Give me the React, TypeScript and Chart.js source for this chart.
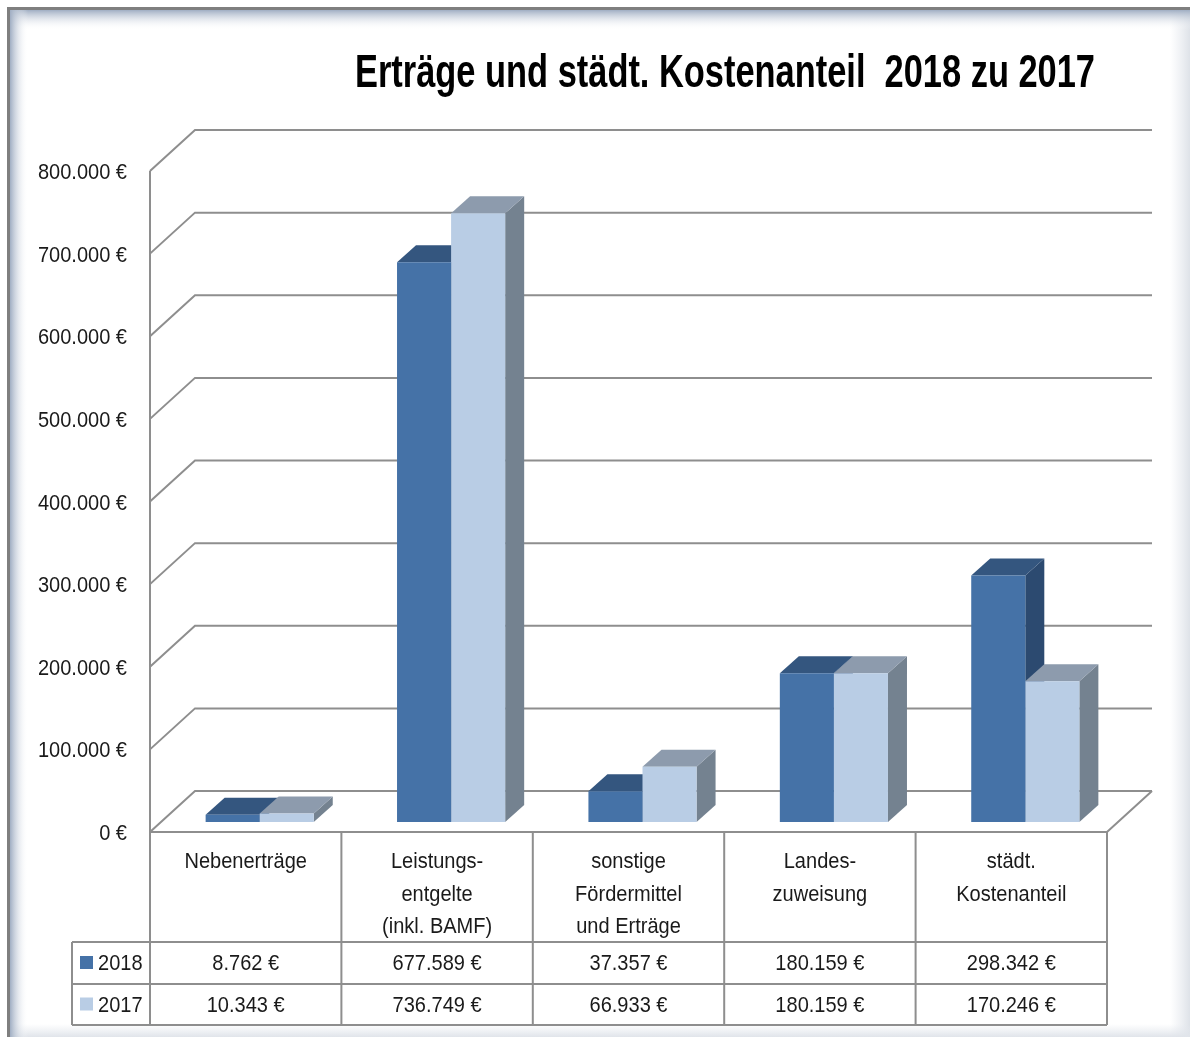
import React, { useEffect, useRef } from "react";
import { Chart, registerables } from "chart.js";

Chart.register(...registerables);

const CATEGORIES: string[][] = [
  ["Nebenerträge"],
  ["Leistungs-", "entgelte", "(inkl. BAMF)"],
  ["sonstige", "Fördermittel", "und Erträge"],
  ["Landes-", "zuweisung"],
  ["städt.", "Kostenanteil"],
];
const SERIES_NAMES = ["2018", "2017"];
const VALUES_2018 = [8762, 677589, 37357, 180159, 298342];
const VALUES_2017 = [10343, 736749, 66933, 180159, 170246];
const Y_TICKS = [0, 100000, 200000, 300000, 400000, 500000, 600000, 700000, 800000];
const TITLE = "Erträge und städt. Kostenanteil  2018 zu 2017";

const FRONT = ["#4572A7", "#B9CDE5"];
const TOPC = ["#34567F", "#8D9BAD"];
const SIDE = ["#2C4A70", "#748290"];

const FONT = "'Liberation Sans Narrow', 'Arial Narrow', 'Liberation Sans', sans-serif";
const GRID = "#8E8E8E";
const TXT = "#1A1A1A";
const SX = 0.91;

// depth geometry (relative to the bar front plane)
const FX = -14, FY = 10; // front floor plane
const BX = 31, BY = -31; // back wall plane
const DX = 19, DY = -17; // bar depth

function fmt(v: number): string {
  const s = Math.round(v).toString().replace(/\B(?=(\d{3})+(?!\d))/g, ".");
  return s + " €";
}

function txt(ctx: CanvasRenderingContext2D, s: string, x: number, y: number, align: CanvasTextAlign) {
  ctx.save();
  ctx.translate(x, y);
  ctx.scale(SX, 1);
  ctx.textAlign = align;
  ctx.fillText(s, 0, 0);
  ctx.restore();
}

const threeD = {
  id: "threeD",
  beforeDraw(chart: any) {
    const ctx = chart.ctx as CanvasRenderingContext2D;
    const W = chart.width, H = chart.height;
    ctx.save();
    ctx.fillStyle = "#FFFFFF";
    ctx.fillRect(0, 0, W, H);
    let g = ctx.createLinearGradient(1170, 0, W, 0);
    g.addColorStop(0, "rgba(228,232,238,0)");
    g.addColorStop(1, "rgba(222,226,232,1)");
    ctx.fillStyle = g;
    ctx.fillRect(1170, 7, W - 1170, H - 7);
    g = ctx.createLinearGradient(0, 1024, 0, H);
    g.addColorStop(0, "rgba(228,232,238,0)");
    g.addColorStop(1, "rgba(224,228,234,1)");
    ctx.fillStyle = g;
    ctx.fillRect(7, 1024, W - 7, H - 1024);
    g = ctx.createLinearGradient(0, 10, 0, 30);
    g.addColorStop(0, "rgba(160,174,195,1)");
    g.addColorStop(1, "rgba(255,255,255,0)");
    ctx.fillStyle = g;
    ctx.fillRect(10, 10, W - 10, 20);
    g = ctx.createLinearGradient(10, 0, 28, 0);
    g.addColorStop(0, "rgba(160,174,195,1)");
    g.addColorStop(1, "rgba(255,255,255,0)");
    ctx.fillStyle = g;
    ctx.fillRect(10, 10, 18, H - 10);
    ctx.fillStyle = "#7F7F7F";
    ctx.fillRect(7, 7, W - 7, 3);
    ctx.fillRect(7, 7, 3, H - 7);

    ctx.fillStyle = "#000000";
    ctx.font = `bold 44px ${FONT}`;
    ctx.textBaseline = "alphabetic";
    ctx.textAlign = "left";
    const tw = ctx.measureText(TITLE).width;
    const target = 740;
    ctx.translate(355, 87);
    ctx.scale(target / tw, 1.05);
    ctx.fillText(TITLE, 0, 0);
    ctx.restore();
  },
  beforeDatasetsDraw(chart: any) {
    const ctx = chart.ctx as CanvasRenderingContext2D;
    const { left, right } = chart.chartArea;
    const y = chart.scales.y;
    ctx.save();
    ctx.strokeStyle = GRID;
    ctx.lineWidth = 2;
    Y_TICKS.forEach((v) => {
      const yb = y.getPixelForValue(v);
      ctx.beginPath();
      ctx.moveTo(left + FX, yb + FY);
      ctx.lineTo(left + BX, yb + BY);
      ctx.lineTo(right + BX, yb + BY);
      ctx.stroke();
    });
    const y0 = y.getPixelForValue(0);
    const yMax = y.getPixelForValue(Y_TICKS[Y_TICKS.length - 1]);
    ctx.beginPath();
    ctx.moveTo(left + FX, yMax + FY);
    ctx.lineTo(left + FX, y0 + FY);
    ctx.stroke();
    ctx.beginPath();
    ctx.moveTo(left + FX, y0 + FY);
    ctx.lineTo(right + FX, y0 + FY);
    ctx.lineTo(right + BX, y0 + BY);
    ctx.stroke();

    const metas = [chart.getDatasetMeta(0), chart.getDatasetMeta(1)];
    const n = metas[0].data.length;
    for (let i = 0; i < n; i++) {
      metas.forEach((meta: any, d: number) => {
        const el = meta.data[i];
        const p = el.getProps(["x", "y", "base", "width"], true);
        const L = p.x - p.width / 2;
        const R = p.x + p.width / 2;
        const yt = p.y;
        const base = p.base;
        ctx.fillStyle = SIDE[d];
        ctx.beginPath();
        ctx.moveTo(R, yt);
        ctx.lineTo(R + DX, yt + DY);
        ctx.lineTo(R + DX, base + DY);
        ctx.lineTo(R, base);
        ctx.closePath();
        ctx.fill();
        ctx.fillStyle = TOPC[d];
        ctx.beginPath();
        ctx.moveTo(L, yt);
        ctx.lineTo(R, yt);
        ctx.lineTo(R + DX, yt + DY);
        ctx.lineTo(L + DX, yt + DY);
        ctx.closePath();
        ctx.fill();
      });
    }
    ctx.restore();
  },
  afterDraw(chart: any) {
    const ctx = chart.ctx as CanvasRenderingContext2D;
    const { left, right } = chart.chartArea;
    const y = chart.scales.y;
    const x = chart.scales.x;
    ctx.save();
    ctx.fillStyle = TXT;
    ctx.font = `22px ${FONT}`;
    ctx.textBaseline = "middle";
    Y_TICKS.forEach((v) => {
      txt(ctx, fmt(v), left + FX - 23, y.getPixelForValue(v) + FY + 2, "right");
    });

    const y0 = y.getPixelForValue(0) + FY;
    const n = CATEGORIES.length;
    const catW = (right - left) / n;
    const edges: number[] = [];
    for (let i = 0; i <= n; i++) {
      const c = i < n ? x.getPixelForValue(i) - catW / 2 : x.getPixelForValue(n - 1) + catW / 2;
      edges.push(c + FX);
    }
    const hdrBottom = y0 + 110;
    const row1 = hdrBottom + 42;
    const row2 = row1 + 41;
    const legL = 72;
    ctx.strokeStyle = GRID;
    ctx.lineWidth = 2;
    ctx.beginPath();
    edges.forEach((e) => {
      ctx.moveTo(e, y0);
      ctx.lineTo(e, row2);
    });
    ctx.moveTo(legL, hdrBottom);
    ctx.lineTo(legL, row2);
    [hdrBottom, row1, row2].forEach((yy) => {
      ctx.moveTo(legL, yy);
      ctx.lineTo(edges[n], yy);
    });
    ctx.stroke();

    ctx.fillStyle = TXT;
    ctx.font = `22px ${FONT}`;
    ctx.textBaseline = "middle";
    CATEGORIES.forEach((lines, i) => {
      const cx = (edges[i] + edges[i + 1]) / 2;
      lines.forEach((ln, k) => {
        txt(ctx, ln, cx, y0 + 30 + k * 32.5, "center");
      });
    });
    const series = [VALUES_2018, VALUES_2017];
    const rowMid = [(hdrBottom + row1) / 2, (row1 + row2) / 2];
    series.forEach((vals, s) => {
      vals.forEach((v, i) => {
        const cx = (edges[i] + edges[i + 1]) / 2;
        txt(ctx, fmt(v), cx, rowMid[s] + 1, "center");
      });
      ctx.fillStyle = FRONT[s];
      ctx.fillRect(legL + 8, rowMid[s] - 7, 13, 13);
      ctx.fillStyle = TXT;
      txt(ctx, SERIES_NAMES[s], legL + 26, rowMid[s] + 1, "left");
    });
    ctx.restore();
  },
};

export default function App() {
  const ref = useRef<HTMLCanvasElement | null>(null);
  useEffect(() => {
    if (!ref.current) return;
    const chart = new Chart(ref.current, {
      type: "bar",
      data: {
        labels: CATEGORIES.map((c) => c.join(" ")),
        datasets: [
          { label: SERIES_NAMES[0], data: VALUES_2018, backgroundColor: FRONT[0], borderWidth: 0 },
          { label: SERIES_NAMES[1], data: VALUES_2017, backgroundColor: FRONT[1], borderWidth: 0 },
        ],
      },
      options: {
        animation: false,
        responsive: false,
        maintainAspectRatio: false,
        devicePixelRatio: 1,
        layout: { padding: { left: 164, right: 69, top: 161, bottom: 215 } },
        datasets: { bar: { categoryPercentage: 0.565, barPercentage: 1 } },
        scales: {
          x: { display: false },
          y: { display: false, min: 0, max: 800000, ticks: { stepSize: 100000 } },
        },
        plugins: {
          legend: { display: false },
          title: { display: false },
          tooltip: { enabled: false },
        },
      },
      plugins: [threeD],
    });
    return () => chart.destroy();
  }, []);
  return (
    <div style={{ position: "absolute", left: 0, top: 0, width: 1190, height: 1037 }}>
      <canvas ref={ref} width={1190} height={1037} style={{ width: 1190, height: 1037, display: "block" }} />
    </div>
  );
}
